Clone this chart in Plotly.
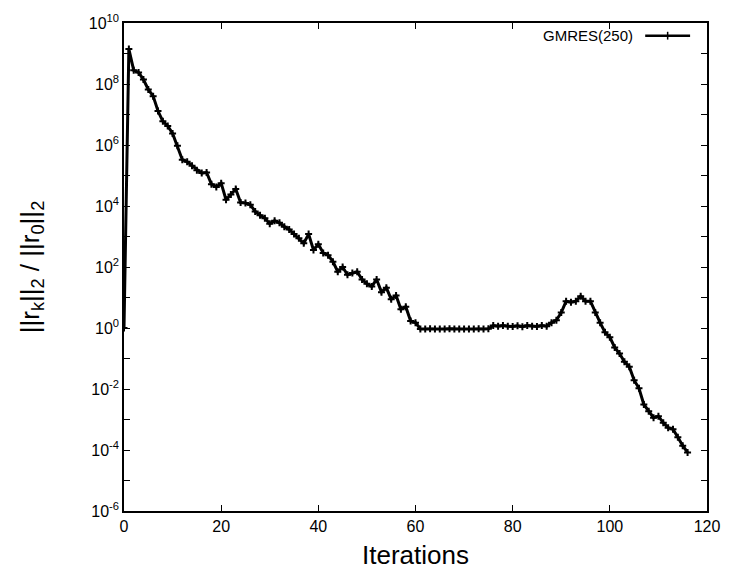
import plotly.graph_objects as go

# Iteration number and relative residual ||r_k||_2 / ||r_0||_2
iterations = list(range(0, 117))
residual = [
    1.0, 1.4e9, 2.8e8, 2.4e8, 1.4e8, 6.6e7, 4.0e7, 1.3e7, 6.0e6, 4.2e6,       # 0-9
    2.4e6, 9.5e5, 3.3e5, 2.8e5, 2.1e5, 1.5e5, 1.2e5, 1.25e5, 5.2e4, 4.2e4,    # 10-19
    5.6e4, 1.6e4, 2.4e4, 3.6e4, 1.3e4, 1.25e4, 1.1e4, 6.6e3, 5.0e3, 4.0e3,    # 20-29
    2.6e3, 3.3e3, 2.8e3, 2.1e3, 1.7e3, 1.2e3, 870, 600, 1.2e3, 360,           # 30-39
    560, 290, 245, 150, 70, 100, 56, 63, 70, 39,                              # 40-49
    28, 23, 39, 15, 21, 8.7, 11.7, 4.1, 5.0, 1.7,                             # 50-59
    1.5, 0.93, 0.92, 0.94, 0.92, 0.93, 0.92, 0.94, 0.92, 0.93,                # 60-69
    0.92, 0.93, 0.92, 0.94, 0.93, 0.95, 1.2, 1.15, 1.2, 1.15,                 # 70-79
    1.12, 1.18, 1.1, 1.2, 1.15, 1.12, 1.2, 1.15, 1.5, 1.8,                    # 80-89
    3.2, 7.6, 7.0, 7.6, 11.0, 7.6, 7.6, 3.2, 1.5, 0.72,                       # 90-99
    0.5, 0.23, 0.145, 0.078, 0.054, 0.0195, 0.0105, 0.0031, 0.00186, 0.00115, # 100-109
    0.00129, 0.00078, 0.00054, 0.00048, 0.00026, 0.000138, 0.000083,          # 110-116
]

series_name = "GMRES(250)"
x_ticks = [0, 20, 40, 60, 80, 100, 120]
y_exponents = list(range(-6, 11))
y_tick_vals = [10.0 ** e for e in y_exponents]
y_tick_text = [f"10<sup>{e}</sup>" if e % 2 == 0 else "" for e in y_exponents]

FONT = "Liberation Sans, Arial, Helvetica, sans-serif"

fig = go.Figure()
fig.add_trace(go.Scatter(
    x=iterations, y=residual, mode="lines+markers", name=series_name,
    line=dict(color="black", width=3),
    marker=dict(symbol="cross-thin", size=5, color="black",
                line=dict(color="black", width=2)),
    showlegend=False,
))

# legend key (text followed by a line sample with a "+" marker)
fig.add_annotation(xref="paper", yref="paper", x=0.877, y=0.974,
                   xanchor="right", yanchor="middle", showarrow=False,
                   text=series_name, font=dict(family=FONT, size=15, color="black"))
fig.add_shape(type="line", xref="paper", yref="paper",
              x0=0.894, x1=0.971, y0=0.974, y1=0.974,
              line=dict(color="black", width=2.5))
fig.add_shape(type="line", xref="paper", yref="paper",
              x0=0.9325, x1=0.9325, y0=0.966, y1=0.982,
              line=dict(color="black", width=1.5))

fig.update_layout(
    width=732, height=577,
    margin=dict(l=124, r=22, t=20, b=63),
    paper_bgcolor="white", plot_bgcolor="white",
    font=dict(family=FONT, size=16, color="black"),
)
fig.update_xaxes(
    range=[0, 120], tickvals=x_ticks, ticks="inside", ticklen=6,
    tickwidth=1.2, tickcolor="black",
    showline=True, linecolor="black", linewidth=1.5, mirror="allticks",
    showgrid=False, zeroline=False,
    title=dict(text="Iterations", font=dict(size=26), standoff=12),
    tickfont=dict(size=16),
)
fig.update_yaxes(
    type="log", range=[-6, 10], tickvals=y_tick_vals, ticktext=y_tick_text,
    ticks="inside", ticklen=6, tickwidth=1.2, tickcolor="black",
    showline=True, linecolor="black", linewidth=1.5, mirror="allticks",
    showgrid=False, zeroline=False,
    title=dict(text="||r<sub>k</sub>||<sub>2</sub> / ||r<sub>0</sub>||<sub>2</sub>",
               font=dict(size=26), standoff=42),
    tickfont=dict(size=16),
)

fig.write_html("out.html")
